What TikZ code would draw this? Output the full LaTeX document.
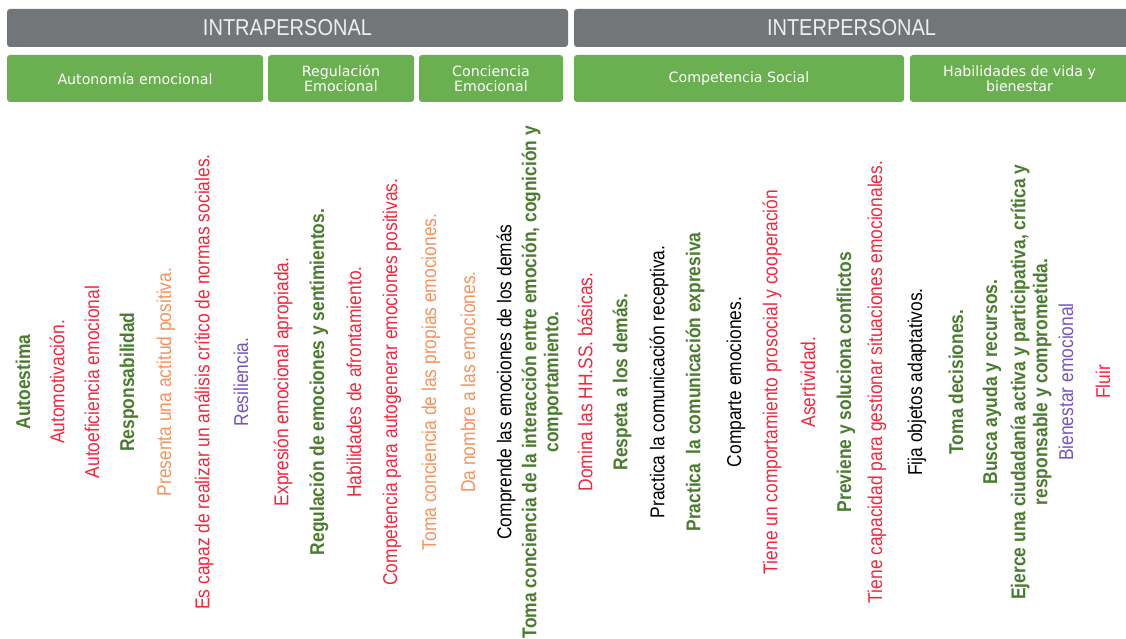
\documentclass[tikz,border=0pt]{standalone}
\usepackage{fontspec}
\setmainfont{Liberation Sans}
\newfontfamily\narrowfont[FakeStretch=0.87]{Liberation Sans}
\newfontfamily\boxfont{DejaVu Sans}
\usepackage{xcolor}
\usepackage{tikz}
\definecolor{bargray}{RGB}{115,118,121}
\definecolor{barwhite}{RGB}{238,238,238}
\definecolor{compgreen}{RGB}{106,176,80}
\definecolor{itemred}{RGB}{240,40,60}
\definecolor{itemorange}{RGB}{246,146,92}
\definecolor{itempurple}{RGB}{118,84,188}
\definecolor{itemgreen}{RGB}{74,124,46}
\tikzset{
  area bar/.style={rectangle,fill=bargray,rounded corners=3pt,minimum height=38pt,inner sep=0pt,text=barwhite,font=\narrowfont\fontsize{23}{25}\selectfont},
  comp box/.style={rectangle,fill=compgreen,rounded corners=3pt,minimum height=47pt,inner sep=0pt,align=center,text=white,font=\boxfont\fontsize{14.2}{15.5}\selectfont},
  item/.style={rotate=90,inner sep=0pt,align=center,font=\narrowfont\fontsize{20}{22}\selectfont},
  item red/.style={item,text=itemred},
  item orange/.style={item,text=itemorange},
  item purple/.style={item,text=itempurple},
  item black/.style={item,text=black},
  item green/.style={item,text=itemgreen,font=\narrowfont\bfseries\fontsize{20}{22}\selectfont}
}
\begin{document}
\begin{tikzpicture}[x=1pt,y=-1pt]
  \useasboundingbox (0,0) rectangle (1126,639);
  % dimensiones
  \node[area bar,minimum width=561pt] (intra) at (287.5,28) {INTRAPERSONAL};
  \node[area bar,minimum width=555pt] (inter) at (851.5,28) {INTERPERSONAL};
  % competencias
  \node[comp box,minimum width=256pt] (autonomia) at (135,78.5) {Autonomía emocional};
  \node[comp box,minimum width=146pt] (regulacion) at (341,78.5) {Regulación\\Emocional};
  \node[comp box,minimum width=144pt] (conciencia) at (491,78.5) {Conciencia\\Emocional};
  \node[comp box,minimum width=330pt] (social) at (739,78.5) {Competencia Social};
  \node[comp box,minimum width=219pt] (vida) at (1019.5,78.5) {Habilidades de vida y\\bienestar};
  % microcompetencias
  \foreach \x/\txt in {23/Autoestima, 129/Responsabilidad, 319/Regulación de emociones y sentimientos.,
      542/{Toma conciencia de la interacción entre emoción, cognición y\\comportamiento.},
      622/Respeta a los demás., 695/Practica\ \ la comunicación expresiva, 846/Previene y soluciona conflictos,
      956/Toma decisiones., 992/Busca ayuda y recursos.,
      1031/{Ejerce una ciudadanía activa y participativa, crítica y\\responsable y comprometida.}}{\node[item green] (it\x) at (\x,382) {\txt};}
  \foreach \x/\txt in {57/Automotivación., 92/Autoeficiencia emocional,
      204/Es capaz de realizar un análisis crítico de normas sociales., 283/Expresión emocional apropiada.,
      354/Habilidades de afrontamiento., 392/Competencia para autogenerar emociones positivas.,
      585/Domina las HH.SS. básicas., 772/Tiene un comportamiento prosocial y cooperación, 808/Asertividad.,
      877/Tiene capacidad para gestionar situaciones emocionales., 1103/Fluir}{\node[item red] (it\x) at (\x,382) {\txt};}
  \foreach \x/\txt in {166/Presenta una actitud positiva., 431/Toma conciencia de las propias emociones.,
      468/Da nombre a las emociones.}{\node[item orange] (it\x) at (\x,382) {\txt};}
  \foreach \x/\txt in {241/Resiliencia., 1066/Bienestar emocional}{\node[item purple] (it\x) at (\x,382) {\txt};}
  \foreach \x/\txt in {506/Comprende las emociones de los demás, 659/Practica la comunicación receptiva.,
      736/Comparte emociones., 917/Fija objetos adaptativos.}{\node[item black] (it\x) at (\x,382) {\txt};}
\end{tikzpicture}
\end{document}
